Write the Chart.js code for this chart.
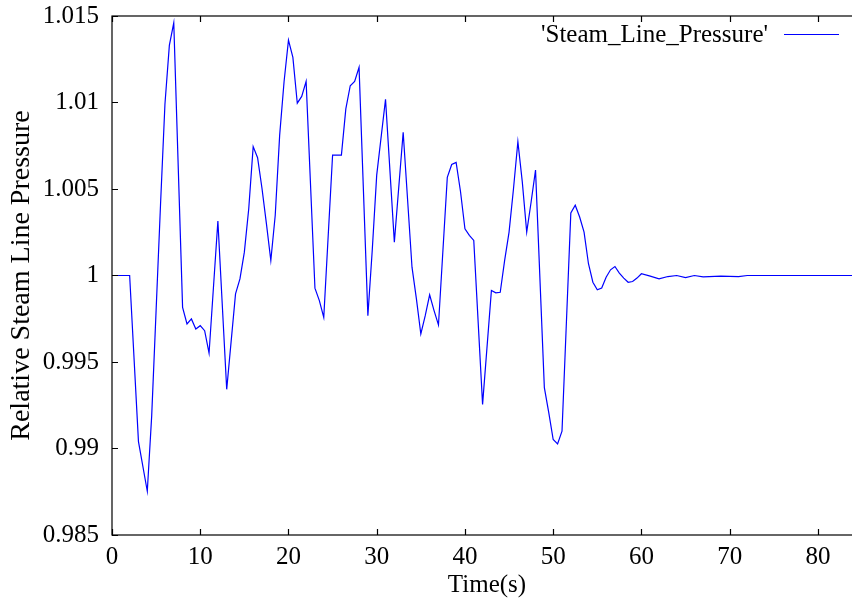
<!DOCTYPE html>
<html>
<head>
<meta charset="utf-8">
<script src="https://cdn.jsdelivr.net/npm/chart.js@4/dist/chart.umd.min.js"></script>
<style>
    html, body { margin: 0; padding: 0; background: #fff; overflow: hidden; }
    /* the plot runs to t=85, a little past the right edge of the picture */
    #wrap { width: 852px; height: 603px; overflow: hidden; }
</style>
</head>
<body>
<div id="wrap"><canvas id="chart" width="862" height="603"></canvas></div>
<script>
// values
const seriesName = "'Steam_Line_Pressure'";

const times = [
    0, 1, 2, 3, 4, 4.5, 5, 5.5, 6, 6.5, 7,
    8, 8.5, 9, 9.5, 10, 10.5, 11, 12, 13, 14, 14.5, 15, 15.5, 16, 16.5, 17, 17.5, 18, 18.5, 19, 19.5,
    20, 20.5, 21, 21.5, 22, 23, 23.5, 24, 25, 26, 26.5, 27, 27.5, 28, 29, 29.5,
    30, 31, 32, 33, 34, 34.5, 35, 35.5, 36, 36.5, 37, 38, 38.5, 39, 39.5,
    40, 40.5, 41, 42, 43, 43.5, 44, 44.5, 45, 45.5, 46, 46.5, 47, 47.5, 48, 49, 49.5,
    50, 50.5, 51, 52, 52.5, 53, 53.5, 54, 54.5, 55, 55.5, 56, 56.5, 57, 57.5, 58, 58.5, 59, 59.5,
    60, 61, 62, 63, 64, 65, 66, 67, 69, 71, 72, 85
];

const pressure = [
    1.0, 1.0, 1.0, 0.9904, 0.98753, 0.9919, 0.998, 1.0041, 1.0099, 1.0133, 1.0146,
    0.99816, 0.9972, 0.99749, 0.99691, 0.9971, 0.99681, 0.99551, 1.00315, 0.99342, 0.99894, 0.9998, 1.00135, 1.00387, 1.00745, 1.00681, 1.00503, 1.003, 1.00087, 1.00348, 1.0081, 1.0112,
    1.0136, 1.01261, 1.00996, 1.01035, 1.01122, 0.99927, 0.99855, 0.99758, 1.00696, 1.00696, 1.00963, 1.01097, 1.01122, 1.01203, 0.99768, 1.0015,
    1.0058, 1.01019, 1.00193, 1.00828, 1.00048, 0.99865, 0.99662, 0.99768, 0.99888, 0.99797, 0.99714, 1.00567, 1.00642, 1.00654, 1.00484,
    1.0027, 1.00232, 1.00203, 0.99255, 0.99913, 0.999, 0.99903, 1.00087, 1.00251, 1.005, 1.00774, 1.00541, 1.00251, 1.00425, 1.00609, 0.99352, 0.99207,
    0.99052, 0.99027, 0.991, 1.00362, 1.00406, 1.00338, 1.00251, 1.00068, 0.99961, 0.99917, 0.99928, 0.9999, 1.00033, 1.00052, 1.00014, 0.99985, 0.99961, 0.99965, 0.99985,
    1.0001, 0.99996, 0.99981, 0.99994, 1.0, 0.99988, 1.0, 0.99992, 0.99996, 0.99993, 1.0, 1.0
];

const xTicks = [0, 10, 20, 30, 40, 50, 60, 70, 80];
const yTicks = [0.985, 0.99, 0.995, 1, 1.005, 1.01, 1.015];

const FONT = "'Liberation Serif', 'Times New Roman', serif";
const TICK_LEN = 6;

Chart.defaults.font.family = FONT;
Chart.defaults.font.size = 25;
Chart.defaults.color = '#000';

// gnuplot style frame: full border with inward ticks, plus key at top right
const framePlugin = {
    id: 'frame',
    afterDraw(chart) {
        const ctx = chart.ctx;
        const area = chart.chartArea;
        const xs = chart.scales.x;
        const ys = chart.scales.y;

        ctx.save();
        ctx.strokeStyle = '#000';
        ctx.lineWidth = 1.2;
        ctx.strokeRect(area.left, area.top, area.right - area.left, area.bottom - area.top);

        ctx.beginPath();
        for (const v of xTicks) {
            const px = Math.round(xs.getPixelForValue(v)) + 0.5;
            ctx.moveTo(px, area.bottom);
            ctx.lineTo(px, area.bottom - TICK_LEN);
            ctx.moveTo(px, area.top);
            ctx.lineTo(px, area.top + TICK_LEN);
        }
        for (const v of yTicks) {
            const py = Math.round(ys.getPixelForValue(v)) + 0.5;
            ctx.moveTo(area.left, py);
            ctx.lineTo(area.left + TICK_LEN, py);
            ctx.moveTo(area.right, py);
            ctx.lineTo(area.right - TICK_LEN, py);
        }
        ctx.stroke();

        // key
        const ds = chart.data.datasets[0];
        ctx.font = `25px ${FONT}`;
        ctx.fillStyle = '#000';
        ctx.textAlign = 'right';
        ctx.textBaseline = 'alphabetic';
        ctx.fillText(ds.label, 768, 42);
        ctx.strokeStyle = ds.borderColor;
        ctx.lineWidth = ds.borderWidth;
        ctx.beginPath();
        ctx.moveTo(784, 34.5);
        ctx.lineTo(839, 34.5);
        ctx.stroke();
        ctx.restore();
    }
};

new Chart('chart', {
    type: 'line',
    data: {
        datasets: [{
            label: seriesName,
            data: times.map((t, i) => ({ x: t, y: pressure[i] })),
            borderColor: '#0000ff',
            borderWidth: 1.2,
            pointRadius: 0,
            tension: 0,
            fill: false,
        }],
    },
    options: {
        responsive: false,
        animation: false,
        layout: {
            padding: { top: 16, right: 0, bottom: 0, left: 0 },
        },
        scales: {
            x: {
                type: 'linear',
                min: 0,
                max: 85,
                afterBuildTicks: (scale) => {
                    scale.ticks = xTicks.map((v) => ({ value: v }));
                },
                afterFit: (scale) => {
                    scale.height = 68;
                    scale.paddingLeft = 0;
                    scale.paddingRight = 0;
                },
                grid: { display: false, drawTicks: false },
                border: { display: false },
                ticks: {
                    padding: 7,
                    maxRotation: 0,
                    autoSkip: false,
                    callback: (value) => String(value),
                },
                title: {
                    display: true,
                    text: 'Time(s)',
                    padding: { top: 0, bottom: 3 },
                },
            },
            y: {
                type: 'linear',
                min: 0.985,
                max: 1.015,
                afterBuildTicks: (scale) => {
                    scale.ticks = yTicks.map((v) => ({ value: v }));
                },
                afterFit: (scale) => {
                    scale.width = 112;
                    scale.paddingTop = 0;
                    scale.paddingBottom = 0;
                },
                grid: { display: false, drawTicks: false },
                border: { display: false },
                ticks: {
                    padding: 13,
                    autoSkip: false,
                    callback: (value) => String(parseFloat(value.toFixed(3))),
                },
                title: {
                    display: true,
                    text: 'Relative Steam Line Pressure',
                    font: { size: 28 },
                    padding: { top: 5, bottom: 0 },
                },
            },
        },
        plugins: {
            legend: { display: false },
            tooltip: { enabled: false },
        },
    },
    plugins: [framePlugin],
});
</script>
</body>
</html>
